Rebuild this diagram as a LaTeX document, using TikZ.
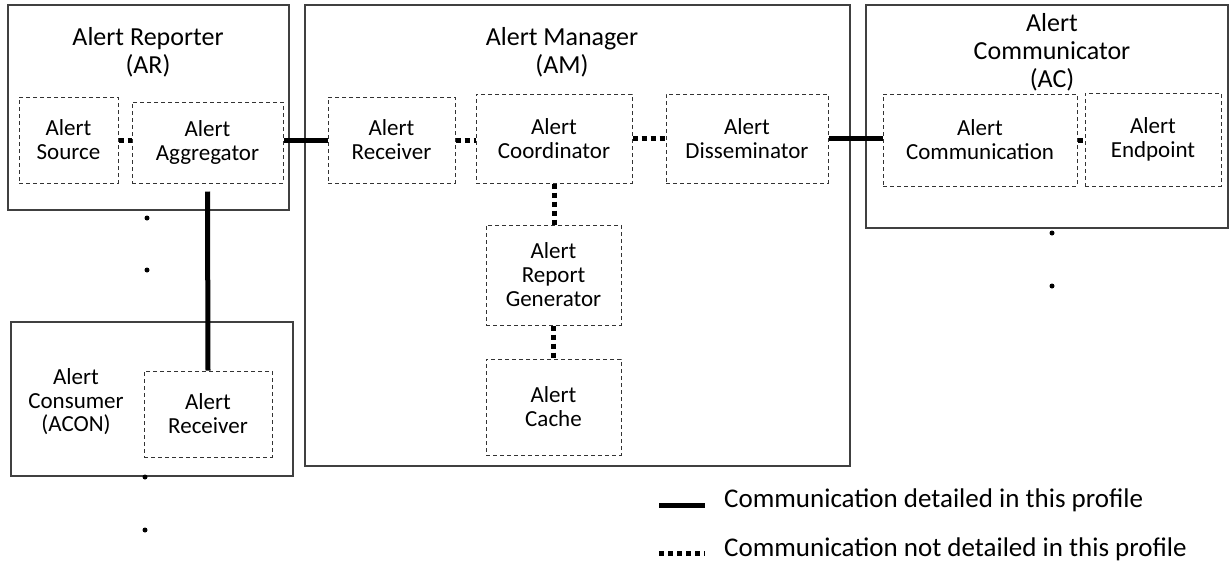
\documentclass[tikz,border=0pt]{standalone}
\usepackage{fontspec}
\setmainfont{Carlito}
\begin{document}
\begin{tikzpicture}[x=1pt,y=-1pt,
  outerbox/.style={draw=black!75, line width=1.3pt, rectangle, inner sep=0pt},
  innerbox/.style={draw=black!80, line width=1pt, dash pattern=on 4pt off 3pt, rectangle, inner sep=0pt, align=center, font=\fontsize{23}{24}\selectfont},
  ttl/.style={align=center, inner sep=0pt, font=\fontsize{26}{28}\selectfont},
  thickconn/.style={line width=5pt},
  dotconn/.style={line width=5pt, dash pattern=on 5pt off 4pt},
  dot/.style={fill=black},
  legtext/.style={anchor=base west, inner sep=0pt, font=\fontsize{27}{29}\selectfont}
]
\useasboundingbox (0,0) rectangle (1231,574);
% outer boxes
\node[outerbox, minimum width=281pt, minimum height=205pt] (AR) at (148.5,107.5) {};
\node[outerbox, minimum width=545pt, minimum height=461pt] (AM) at (577.5,235.5) {};
\node[outerbox, minimum width=362pt, minimum height=223pt] (AC) at (1047,116.5) {};
\node[outerbox, minimum width=282pt, minimum height=154pt] (ACON) at (152,399) {};
% titles
\node[ttl] (ARt) at (148,52) {Alert Reporter\\(AR)};
\node[ttl] (AMt) at (562,52) {Alert Manager\\(AM)};
\node[ttl] (ACt) at (1052,52) {Alert\\Communicator\\(AC)};
\node[align=center, inner sep=0pt, font=\fontsize{23}{23.5}\selectfont] (ACONt) at (76,402) {Alert\\Consumer\\(ACON)};
% inner boxes
\node[innerbox, minimum width=99pt, minimum height=86pt] (src) at (68.5,140) {Alert\\Source};
\node[innerbox, minimum width=151pt, minimum height=81pt] (agg) at (207.5,142.5) {Alert\\Aggregator};
\node[innerbox, minimum width=127pt, minimum height=86pt] (rcv) at (391.5,140) {Alert\\Receiver};
\node[innerbox, minimum width=156pt, minimum height=89pt] (coord) at (554,138.5) {Alert\\Coordinator};
\node[innerbox, minimum width=162pt, minimum height=89pt] (diss) at (747,138.5) {Alert\\Disseminator};
\node[innerbox, minimum width=135pt, minimum height=100pt] (rep) at (553.5,275) {Alert\\Report\\Generator};
\node[innerbox, minimum width=135pt, minimum height=96pt] (cache) at (553.5,407) {Alert\\Cache};
\node[innerbox, minimum width=194pt, minimum height=92pt] (comm) at (980,140) {Alert\\Communication};
\node[innerbox, minimum width=136pt, minimum height=93pt] (endp) at (1153,139.5) {Alert\\Endpoint};
\node[innerbox, minimum width=128pt, minimum height=86pt] (crcv) at (208,414) {Alert\\Receiver};
% connectors
\draw[dotconn] (src.east) -- (src.east -| agg.west);
\draw[thickconn] (rcv.west -| agg.east) -- (rcv.west);
\draw[dotconn] (rcv.east) -- (rcv.east -| coord.west);
\draw[dotconn] (coord.east) -- (coord.east -| diss.west);
\draw[thickconn] (diss.east) -- (diss.east -| comm.west);
\draw[dotconn] (comm.east) -- (comm.east -| endp.west);
\draw[dotconn] (coord.south) -- (coord.south |- rep.north);
\draw[dotconn] (rep.south) -- (cache.north);
\draw[thickconn] ([yshift=-8pt]agg.south) -- (crcv.north);
% continuation dots
\fill[dot] (147,218) circle[radius=2.5pt];
\fill[dot] (147,270) circle[radius=2.5pt];
\fill[dot] (145,477) circle[radius=2.5pt];
\fill[dot] (145,530) circle[radius=2.5pt];
\fill[dot] (1052,233) circle[radius=2.5pt];
\fill[dot] (1052,286) circle[radius=2.5pt];
% legend
\coordinate (l1a) at (659,505);
\coordinate (l1b) at (705,505);
\coordinate (l2a) at (659,553);
\coordinate (l2b) at (705,553);
\draw[thickconn] (l1a) -- (l1b);
\draw[dotconn] (l2a) -- (l2b);
\node[legtext] (leg1) at (724,507) {Communication detailed in this profile};
\node[legtext] (leg2) at (724,556) {Communication not detailed in this profile};
\end{tikzpicture}
\end{document}
